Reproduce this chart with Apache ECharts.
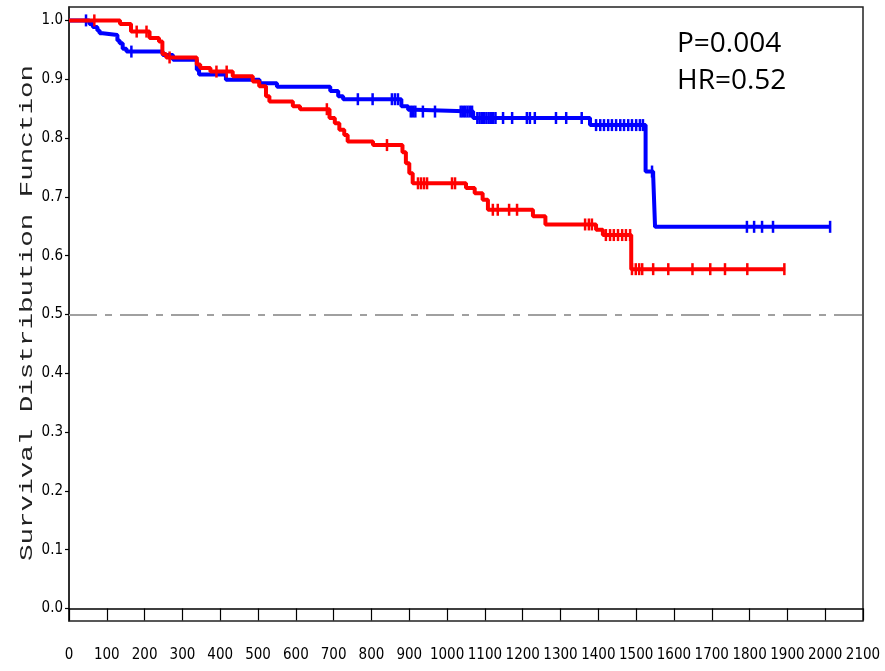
<!DOCTYPE html>
<html>
<head>
<meta charset="utf-8">
<script src="https://cdn.jsdelivr.net/npm/echarts@6/dist/echarts.min.js"></script>
<style>
  html, body { margin: 0; padding: 0; background: #fff; }
  #chart { width: 885px; height: 671px; }
</style>
</head>
<body>
<div id="chart"></div>
<script>
// KM step points (time, survival after that time)
var blueT = [0, 54, 63, 75, 81, 89, 128, 134, 142, 152, 248, 275, 338, 344, 415, 504, 550, 691, 712, 725, 879, 897, 916, 1069, 1378, 1525, 1545, 1550, 2013]
var blueS = [1.0, 0.994, 0.989, 0.983, 0.978, 0.975, 0.966, 0.961, 0.952, 0.947, 0.941, 0.933, 0.916, 0.908, 0.899, 0.893, 0.887, 0.880, 0.871, 0.866, 0.854, 0.848, 0.845, 0.834, 0.822, 0.743, 0.737, 0.649, 0.649]

var redT = [0, 135, 164, 213, 238, 247, 257, 338, 347, 374, 433, 486, 503, 521, 530, 592, 611, 689, 703, 715, 728, 737, 804, 882, 891, 900, 909, 1050, 1073, 1094, 1108, 1227, 1260, 1394, 1412, 1487, 1894]
var redS = [1.0, 0.994, 0.981, 0.970, 0.964, 0.943, 0.937, 0.925, 0.919, 0.913, 0.905, 0.896, 0.888, 0.871, 0.862, 0.854, 0.849, 0.834, 0.825, 0.814, 0.805, 0.794, 0.788, 0.776, 0.757, 0.740, 0.723, 0.715, 0.706, 0.695, 0.678, 0.667, 0.653, 0.644, 0.635, 0.577, 0.577]

// censored observations
var blueCensT = [45, 165, 764, 803, 854, 862, 870, 904, 910, 916, 936, 968, 1036, 1042, 1048, 1054, 1060, 1066, 1080, 1086, 1092, 1098, 1104, 1110, 1116, 1122, 1128, 1148, 1172, 1211, 1219, 1232, 1288, 1315, 1356, 1394, 1405, 1415, 1426, 1436, 1447, 1458, 1468, 1479, 1489, 1500, 1510, 1518, 1542, 1793, 1812, 1833, 1862, 2013]
var blueCensS = [1.0, 0.947, 0.866, 0.866, 0.866, 0.866, 0.866, 0.845, 0.845, 0.845, 0.845, 0.845, 0.845, 0.845, 0.845, 0.845, 0.845, 0.845, 0.834, 0.834, 0.834, 0.834, 0.834, 0.834, 0.834, 0.834, 0.834, 0.834, 0.834, 0.834, 0.834, 0.834, 0.834, 0.834, 0.834, 0.822, 0.822, 0.822, 0.822, 0.822, 0.822, 0.822, 0.822, 0.822, 0.822, 0.822, 0.822, 0.822, 0.743, 0.649, 0.649, 0.649, 0.649, 0.649]

var redCensT = [67, 179, 205, 266, 390, 417, 682, 841, 923, 931, 939, 947, 1013, 1021, 1121, 1134, 1164, 1185, 1365, 1375, 1383, 1420, 1431, 1441, 1452, 1463, 1473, 1484, 1489, 1499, 1508, 1516, 1545, 1585, 1649, 1696, 1735, 1794, 1892]
var redCensS = [1.0, 0.981, 0.981, 0.937, 0.913, 0.913, 0.849, 0.788, 0.723, 0.723, 0.723, 0.723, 0.723, 0.723, 0.678, 0.678, 0.678, 0.678, 0.653, 0.653, 0.653, 0.635, 0.635, 0.635, 0.635, 0.635, 0.635, 0.635, 0.577, 0.577, 0.577, 0.577, 0.577, 0.577, 0.577, 0.577, 0.577, 0.577, 0.577]

var yTicks = [0, 0.1, 0.2, 0.3, 0.4, 0.5, 0.6, 0.7, 0.8, 0.9, 1.0]
var refLevel = 0.5
var statText = ['P=0.004', 'HR=0.52']
var yTitle = 'Survival Distribution Function'

function pairs(xs, ys){
  var out = Array()
  xs.forEach(function(x, i){
    out.push([x, ys[i]])
  })
  return out
}

var chart_div = echarts.init(document.getElementById('chart'))

var labelFont = '"DejaVu Sans Condensed", "Liberation Sans Narrow", "Arial Narrow", "Liberation Sans", sans-serif'

option = {
  animation: false,
  backgroundColor: '#fff',
  grid: {
    left: 69,
    right: 22,
    top: 7,
    bottom: 50,
    show: true,
    borderColor: '#222',
    borderWidth: 1.5
  },
  xAxis: {
    type: 'value',
    min: 0,
    max: 2100,
    interval: 100,
    splitLine: {show: false},
    axisLine: {lineStyle: {color: '#000', width: 1.5}},
    axisTick: {length: 12, lineStyle: {color: '#000', width: 1.2}},
    axisLabel: {
      margin: 27,
      color: '#000',
      fontSize: 15,
      fontFamily: labelFont,
      hideOverlap: false,
      showMaxLabel: true,
      showMinLabel: true,
      formatter: function(v){ return String(v) }
    }
  },
  yAxis: {
    type: 'value',
    min: -0.0213,
    max: 1.0228,
    splitLine: {show: false},
    axisLine: {show: true, lineStyle: {color: '#222', width: 1.5}},
    axisTick: {show: true, length: 4, customValues: yTicks, lineStyle: {color: '#000', width: 1.2}},
    axisLabel: {
      margin: 6,
      color: '#000',
      fontSize: 15,
      fontFamily: labelFont,
      customValues: yTicks,
      formatter: function(v){ return v.toFixed(1) }
    }
  },
  graphic: [
    {
      type: 'text',
      x: 27,
      y: 313,
      rotation: Math.PI / 2,
      scaleX: 1.45,
      style: {
        text: yTitle,
        font: '19px "Liberation Mono", "Courier New", monospace',
        fill: '#222',
        textAlign: 'center',
        textVerticalAlign: 'middle'
      }
    },
    {
      type: 'text',
      left: 677,
      top: 30,
      style: {
        text: statText[0],
        font: '28px "Open Sans", sans-serif',
        fill: '#000'
      }
    },
    {
      type: 'text',
      left: 677,
      top: 67,
      style: {
        text: statText[1],
        font: '28px "Open Sans", sans-serif',
        fill: '#000'
      }
    }
  ],
  series: [
    {
      name: 'blue',
      type: 'line',
      step: 'end',
      showSymbol: false,
      data: pairs(blueT, blueS),
      lineStyle: {color: '#0000ff', width: 4},
      itemStyle: {color: '#0000ff'},
      markLine: {
        silent: true,
        symbol: 'none',
        label: {show: false},
        lineStyle: {color: '#a0a0a0', width: 2, type: [28, 8, 7, 8]},
        data: [{yAxis: refLevel}]
      },
      z: 2
    },
    {
      name: 'blue censored',
      type: 'scatter',
      symbol: 'rect',
      symbolSize: [2.5, 12],
      data: pairs(blueCensT, blueCensS),
      itemStyle: {color: '#0000ff', opacity: 1},
      z: 3
    },
    {
      name: 'red',
      type: 'line',
      step: 'end',
      showSymbol: false,
      data: pairs(redT, redS),
      lineStyle: {color: '#ff0000', width: 4},
      itemStyle: {color: '#ff0000'},
      z: 4
    },
    {
      name: 'red censored',
      type: 'scatter',
      symbol: 'rect',
      symbolSize: [2.5, 12],
      data: pairs(redCensT, redCensS),
      itemStyle: {color: '#ff0000', opacity: 1},
      z: 5
    }
  ]
};

chart_div.setOption(option, true);
</script>
</body>
</html>
